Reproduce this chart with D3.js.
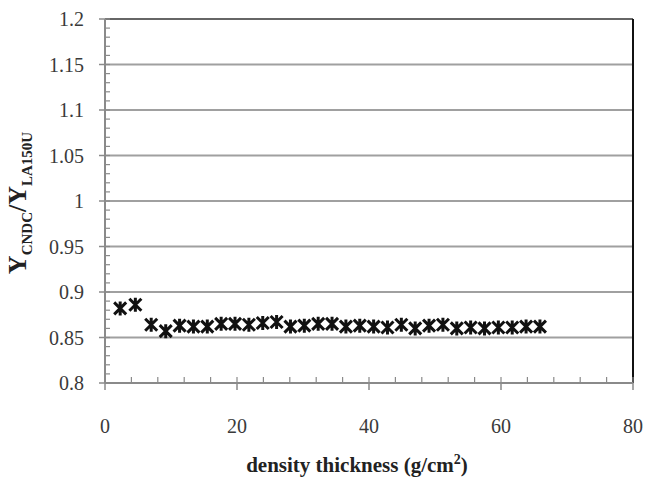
<!DOCTYPE html>
<html>
<head>
<script src="https://d3js.org/d3.v7.min.js"></script>
<style>
  body { margin: 0; background: #fff; }
  text { font-family: "Liberation Serif", "Times New Roman", serif; }
</style>
</head>
<body>
<svg id="chart" width="647" height="478"></svg>
<script>
// density thickness (g/cm2)
var thickness = [2.3, 4.6, 7.0, 9.2, 11.3, 13.4, 15.5, 17.6, 19.7, 21.8, 23.9, 26.0,
                 28.1, 30.2, 32.3, 34.4, 36.5, 38.6, 40.7, 42.8, 44.9, 47.0, 49.1,
                 51.2, 53.3, 55.4, 57.5, 59.6, 61.7, 63.8, 65.9];
// ratio Y_CNDC / Y_LA150U
var ratio = [0.882, 0.886, 0.864, 0.857, 0.863, 0.862, 0.862, 0.865, 0.865, 0.864, 0.866, 0.867,
             0.862, 0.863, 0.865, 0.865, 0.862, 0.863, 0.862, 0.861, 0.864, 0.860, 0.863,
             0.864, 0.860, 0.861, 0.860, 0.861, 0.861, 0.862, 0.862];
var xTicks = [0, 20, 40, 60, 80];
var yTicks = [0.8, 0.85, 0.9, 0.95, 1, 1.05, 1.1, 1.15, 1.2];

var svg = d3.select('#chart');
var x = d3.scaleLinear().domain([0, 80]).range([105, 633]);
var y = d3.scaleLinear().domain([0.8, 1.2]).range([383, 19]);

// gridlines
svg.selectAll('.grid').data(yTicks.slice(1, -1)).enter().append('line')
    .attr('x1', x(0)).attr('x2', x(80))
    .attr('y1', d => y(d)).attr('y2', d => y(d))
    .attr('stroke', '#a0a0a0').attr('stroke-width', 2);
// top + right border
svg.append('line').attr('x1', x(0)).attr('x2', x(80)).attr('y1', y(1.2)).attr('y2', y(1.2))
    .attr('stroke', '#666').attr('stroke-width', 2);
svg.append('line').attr('x1', x(80)).attr('x2', x(80)).attr('y1', y(1.2)).attr('y2', y(0.8))
    .attr('stroke', '#111').attr('stroke-width', 2);

// y axis: minor ticks inside, major outside
var yMinor = d3.range(80, 121).map(d => d / 100);
svg.selectAll('.ymin').data(yMinor).enter().append('line')
    .attr('x1', x(0)).attr('x2', x(0) + 5)
    .attr('y1', d => y(d)).attr('y2', d => y(d))
    .attr('stroke', '#8a8a8a').attr('stroke-width', 1.2);
svg.selectAll('.ymaj').data(yTicks).enter().append('line')
    .attr('x1', x(0) - 6).attr('x2', x(0))
    .attr('y1', d => y(d)).attr('y2', d => y(d))
    .attr('stroke', '#8a8a8a').attr('stroke-width', 1.5);
svg.append('line').attr('x1', x(0)).attr('x2', x(0)).attr('y1', y(1.2)).attr('y2', y(0.8))
    .attr('stroke', '#8a8a8a').attr('stroke-width', 2);
svg.selectAll('.ylab').data(yTicks).enter().append('text')
    .attr('x', 84).attr('y', d => y(d) + 7)
    .attr('text-anchor', 'end').attr('font-size', 20).attr('fill', '#3a3a3a')
    .text(d => d3.format('')(d));

// x axis
var xMinor = d3.range(0, 81, 4);
svg.selectAll('.xmin').data(xMinor).enter().append('line')
    .attr('x1', d => x(d)).attr('x2', d => x(d))
    .attr('y1', y(0.8) - 6).attr('y2', y(0.8))
    .attr('stroke', '#8a8a8a').attr('stroke-width', 1.2);
svg.selectAll('.xmaj').data(xTicks).enter().append('line')
    .attr('x1', d => x(d)).attr('x2', d => x(d))
    .attr('y1', y(0.8)).attr('y2', y(0.8) + 7)
    .attr('stroke', '#8a8a8a').attr('stroke-width', 1.5);
svg.append('line').attr('x1', x(0)).attr('x2', x(80)).attr('y1', y(0.8)).attr('y2', y(0.8))
    .attr('stroke', '#8a8a8a').attr('stroke-width', 2);
svg.selectAll('.xlab').data(xTicks).enter().append('text')
    .attr('x', d => x(d)).attr('y', 433)
    .attr('text-anchor', 'middle').attr('font-size', 20).attr('fill', '#3a3a3a')
    .text(d => d);

// titles
var xt = svg.append('text').attr('x', 357).attr('y', 472)
    .attr('text-anchor', 'middle').attr('font-size', 21).attr('font-weight', 'bold').attr('fill', '#222');
xt.append('tspan').text('density thickness (g/cm');
xt.append('tspan').attr('dy', -8).attr('font-size', 14).text('2');
xt.append('tspan').attr('dy', 8).text(')');

var yt = svg.append('text').attr('transform', 'translate(26,203) rotate(-90)')
    .attr('text-anchor', 'middle').attr('font-size', 26).attr('font-weight', 'bold').attr('fill', '#222');
yt.append('tspan').text('Y');
yt.append('tspan').attr('dy', 6).attr('font-size', 15).text('CNDC');
yt.append('tspan').attr('dy', -6).text('/Y');
yt.append('tspan').attr('dy', 6).attr('font-size', 15).text('LA150U');

// markers (star: x with vertical bar)
var s = 6;
var star = 'M' + (-s) + ',' + (-s) + 'L' + s + ',' + s + 'M' + (-s) + ',' + s + 'L' + s + ',' + (-s) + 'M0,' + (-s - 1) + 'L0,' + (s + 1);
svg.selectAll('.pt').data(thickness).enter().append('path')
    .attr('transform', (d, i) => 'translate(' + x(d) + ',' + y(ratio[i]) + ')')
    .attr('d', star)
    .attr('fill', 'none').attr('stroke', '#111').attr('stroke-width', 3);
</script>
</body>
</html>
